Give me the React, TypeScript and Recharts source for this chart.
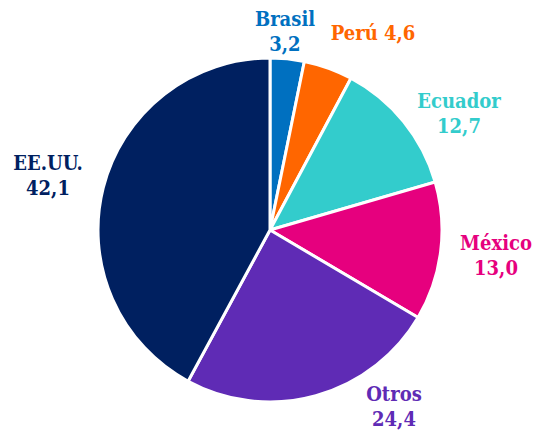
import React from "react";
import { PieChart, Pie, Cell } from "recharts";

const categories = ["Brasil", "Perú", "Ecuador", "México", "Otros", "EE.UU."];
const values = [3.2, 4.6, 12.7, 13.0, 24.4, 42.1];
const valueLabels = ["3,2", "4,6", "12,7", "13,0", "24,4", "42,1"];

const colors = ["#0070C0", "#FF6600", "#33CCCC", "#E6007E", "#5F2BB5", "#002060"];
const labelOffsets: [number, number, boolean][] = [
  [15, -199, false],
  [103, -197, true],
  [189, -117, false],
  [226, 25, false],
  [124, 176, false],
  [-222, -55, false],
];

const data = categories.map((name, i) => ({ name, value: values[i], text: valueLabels[i] }));

const FONT = "'DejaVu Serif Condensed', 'DejaVu Serif', serif";

const renderLabel = (props: any) => {
  const { cx, cy, index } = props;
  const [dx, dy, single] = labelOffsets[index];
  const x = cx + dx;
  const y = cy + dy;
  const fill = colors[index];
  if (single) {
    return (
      <text x={x} y={y} fill={fill} textAnchor="middle" dominantBaseline="central"
        style={{ fontFamily: FONT, fontWeight: 700, fontSize: 20 }}>
        {`${data[index].name} ${data[index].text}`}
      </text>
    );
  }
  return (
    <text x={x} y={y} fill={fill} textAnchor="middle"
      style={{ fontFamily: FONT, fontWeight: 700, fontSize: 20 }}>
      <tspan x={x} dy={-12.5} dominantBaseline="central">{data[index].name}</tspan>
      <tspan x={x} dy={25.5} dominantBaseline="central">{data[index].text}</tspan>
    </text>
  );
};

export default function App() {
  return (
    <div style={{ position: "absolute", left: 0, top: 0, width: 534, height: 433, background: "#fff" }}>
      <PieChart width={534} height={433} margin={{ top: 0, right: 0, bottom: 0, left: 0 }}>
        <Pie
          data={data}
          dataKey="value"
          nameKey="name"
          cx={270}
          cy={230}
          outerRadius={172}
          startAngle={90}
          endAngle={-270}
          stroke="#ffffff"
          strokeWidth={3}
          label={renderLabel}
          labelLine={false}
          isAnimationActive={false}
        >
          {data.map((d, i) => (
            <Cell key={d.name} fill={colors[i]} />
          ))}
        </Pie>
      </PieChart>
    </div>
  );
}
